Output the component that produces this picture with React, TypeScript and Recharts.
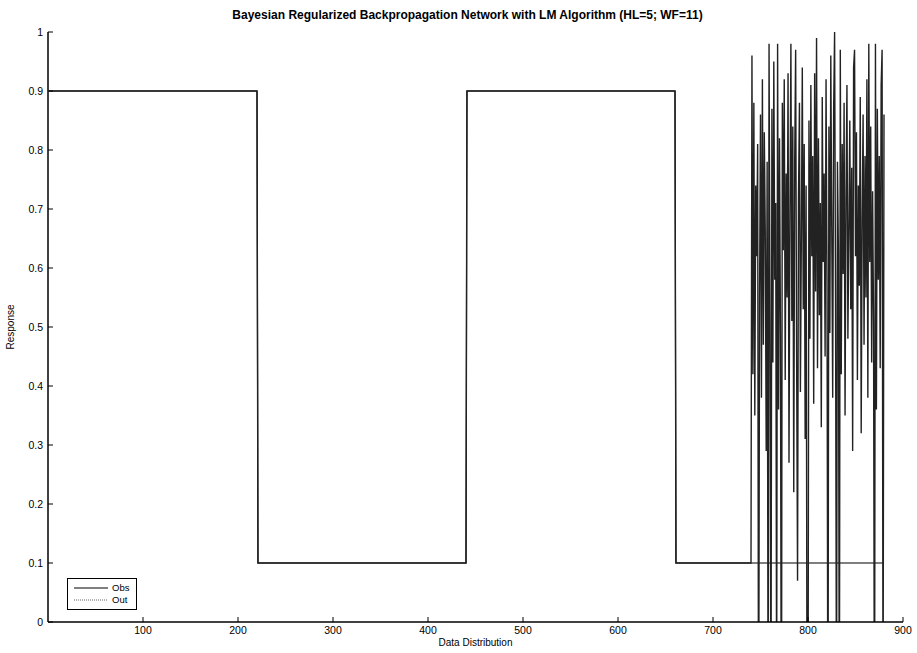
import { LineChart, Line, XAxis, YAxis } from "recharts";

// observed target: square wave (breakpoints)
const obsX = [1, 220, 221, 440, 441, 660, 661, 880];
const obsY = [0.9, 0.9, 0.1, 0.1, 0.9, 0.9, 0.1, 0.1];

// network output: follows obs until 740, then noisy
const outFitX = [1, 220, 221, 440, 441, 660, 661, 740];
const outFitY = [0.9, 0.9, 0.1, 0.1, 0.9, 0.9, 0.1, 0.1];
const outNoiseStart = 741;
const outNoise = [
  0.96, 0.42, 0.88, 0.35, 0.74, 0.62, 0.81, -0.3, 0.55, 0.86,
  0.38, 0.92, 0.47, 0.83, 0.66, 0.29, 0.78, -0.2, 0.98, 0.52,
  -0.25, 0.87, 0.44, 0.95, 0.58, 0.71, -0.15, 0.98, 0.36, 0.82,
  0.49, -0.3, 0.88, 0.63, 0.92, 0.41, 0.76, 0.55, 0.93, 0.27,
  0.69, 0.98, 0.51, 0.84, 0.22, 0.78, 0.97, 0.46, 0.07, 0.72,
  0.88, 0.39, 0.65, 0.94, 0.53, 0.81, 0.31, 0.74, -0.2, -0.25,
  0.85, 0.48, 0.91, 0.62, 0.79, 0.37, 0.93, 0.56, 0.99, 0.43,
  0.82, 0.52, 0.71, 0.33, 0.89, 0.61, 0.76, 0.45, 0.92, 0.58,
  -0.3, 0.84, 0.49, 0.96, 0.67, 0.38, 0.87, 1.0, 0.54, -0.2,
  0.78, 0.63, -0.25, 0.97, 0.42, 0.81, 0.59, 0.88, 0.35, 0.72,
  0.91, 0.48, 0.66, 0.85, 0.53, 0.77, 0.29, 0.94, 0.97, 0.62,
  0.83, 0.41, 0.74, 0.57, 0.89, 0.32, 0.68, 0.86, 0.47, 0.79,
  0.55, 0.92, 0.38, 0.98, 0.61, 0.84, 0.44, 0.73, 0.51, -0.3,
  0.98, 0.36, 0.87, 0.58, 0.79, 0.43, 0.91, 0.97, -0.2, 0.86,
];

const xTicks = [100, 200, 300, 400, 500, 600, 700, 800, 900];
const yTicks = [0, 0.1, 0.2, 0.3, 0.4, 0.5, 0.6, 0.7, 0.8, 0.9, 1];

const obsData = obsX.map((x, i) => ({ x, y: obsY[i] }));
const outData = [
  ...outFitX.map((x, i) => ({ x, y: outFitY[i] })),
  ...outNoise.map((y, i) => ({ x: outNoiseStart + i, y })),
];

const FONT = "'Liberation Sans', Arial, sans-serif";

const XTick = ({ x, y, payload }: any) => (
  <g>
    <line x1={x} y1={y} x2={x} y2={y - 5} stroke="#000" />
    <text x={x} y={y + 12} textAnchor="middle" fontSize={10.5} fontFamily={FONT} fill="#000">
      {payload.value}
    </text>
  </g>
);

const YTick = ({ x, y, payload }: any) => (
  <g>
    <line x1={x} y1={y} x2={x + 5} y2={y} stroke="#000" />
    <text x={x - 5} y={y} dy="0.35em" textAnchor="end" fontSize={10.5} fontFamily={FONT} fill="#000">
      {payload.value}
    </text>
  </g>
);

export default function App() {
  return (
    <div style={{ position: "absolute", left: 0, top: 0, width: 917, height: 653, background: "#fff", fontFamily: FONT }}>
      <div
        style={{
          position: "absolute",
          left: 40,
          width: 855,
          top: 8,
          textAlign: "center",
          fontSize: 12,
          fontWeight: "bold",
        }}
      >
        Bayesian Regularized Backpropagation Network with LM Algorithm (HL=5; WF=11)
      </div>
      <LineChart width={917} height={653} margin={{ top: 32, right: 14, bottom: 0, left: 0 }}>
        <XAxis
          type="number"
          dataKey="x"
          domain={[0, 900]}
          ticks={xTicks}
          height={31}
          tickSize={0}
          tickMargin={0}
          tickLine={false}
          tick={<XTick />}
          axisLine={{ stroke: "#000", strokeWidth: 1.5 }}
          label={{ value: "Data Distribution", position: "insideBottom", offset: 7, fontSize: 10, fill: "#000", fontFamily: FONT }}
        />
        <YAxis
          type="number"
          domain={[0, 1]}
          allowDataOverflow
          ticks={yTicks}
          width={48}
          tickSize={0}
          tickMargin={0}
          tickLine={false}
          tick={<YTick />}
          axisLine={{ stroke: "#000", strokeWidth: 1.5 }}
          label={{ value: "Response", angle: -90, position: "insideLeft", offset: 10, fontSize: 10, fill: "#000", fontFamily: FONT, style: { textAnchor: "middle" } }}
        />
        <Line data={obsData} dataKey="y" stroke="#000" strokeWidth={1.2} dot={false} isAnimationActive={false} />
        <Line data={outData} dataKey="y" stroke="#222" strokeWidth={1.4} dot={false} isAnimationActive={false} />
      </LineChart>
      <div
        style={{
          position: "absolute",
          left: 67,
          top: 578,
          width: 70,
          height: 32,
          border: "1.5px solid #000",
          boxSizing: "border-box",
          background: "#fff",
        }}
      >
        <svg width={70} height={32} style={{ position: "absolute", left: 0, top: 0 }}>
          <line x1={6} y1={9} x2={40} y2={9} stroke="#000" strokeWidth={1.2} />
          <text x={44} y={12} fontSize={9.5} fontFamily={FONT}>Obs</text>
          <line x1={6} y1={21} x2={40} y2={21} stroke="#666" strokeDasharray="1 1" />
          <text x={44} y={24} fontSize={9.5} fontFamily={FONT}>Out</text>
        </svg>
      </div>
    </div>
  );
}
